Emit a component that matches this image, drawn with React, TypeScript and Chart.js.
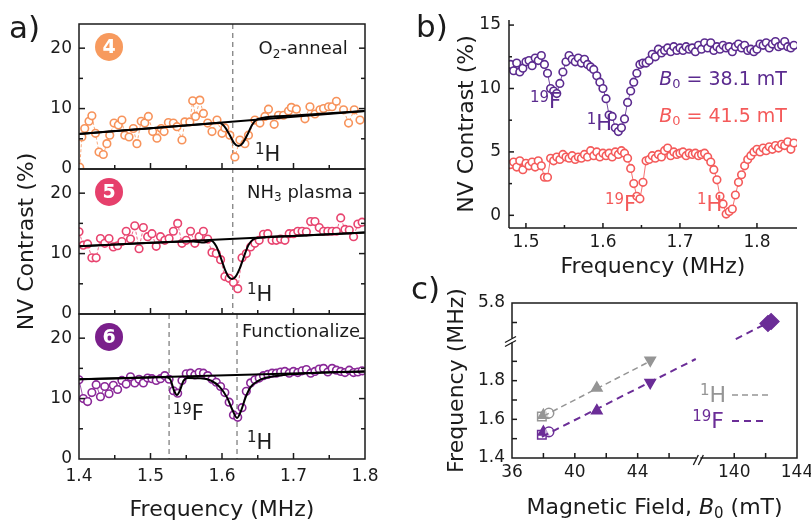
import React, { useEffect, useRef } from "react";
import { Chart, registerables } from "chart.js";

Chart.register(...registerables);

const FONT = "'DejaVu Sans', 'Liberation Sans', Arial, sans-serif";
const INK = "#1b1b1b";

/* ---------------- panel a ---------------- */
const aXTicks = [1.4, 1.5, 1.6, 1.7, 1.8];
const aXMarks = [1.45, 1.5, 1.55, 1.6, 1.65, 1.7, 1.75];
const aYTicks = [0, 10, 20];
const aYMarks = [5, 10, 15, 20];
const aLineTopMid = 1.615;
const aLinesBottom = [1.526, 1.621];

const aTopFreq = [1.401, 1.404, 1.408, 1.414, 1.418, 1.423, 1.428, 1.434, 1.439, 1.443, 1.449, 1.455, 1.46, 1.464, 1.47, 1.476, 1.481, 1.487, 1.492, 1.497, 1.503, 1.509, 1.515, 1.519, 1.525, 1.532, 1.537, 1.544, 1.548, 1.555, 1.559, 1.563, 1.569, 1.574, 1.58, 1.586, 1.593, 1.6, 1.604, 1.611, 1.618, 1.625, 1.632, 1.637, 1.646, 1.653, 1.66, 1.665, 1.673, 1.679, 1.686, 1.693, 1.697, 1.704, 1.716, 1.723, 1.73, 1.737, 1.742, 1.749, 1.754, 1.76, 1.77, 1.777, 1.785, 1.793];
const aTopVal = [0.3, 5.3, 6.7, 7.9, 8.8, 5.9, 2.8, 2.4, 4.2, 5.6, 7.6, 7.3, 8.1, 5.6, 5.3, 6.7, 4.2, 7.9, 7.6, 8.7, 6.2, 5.1, 6.7, 6.2, 7.7, 7.6, 7.0, 4.8, 7.8, 7.8, 11.3, 8.7, 11.4, 9.2, 7.6, 6.2, 8.1, 5.9, 6.8, 5.6, 2.0, 4.8, 4.2, 5.6, 8.1, 7.6, 8.7, 9.9, 7.4, 8.9, 8.9, 9.6, 10.2, 9.9, 8.3, 10.3, 9.1, 9.8, 10.0, 10.3, 10.3, 11.2, 9.8, 7.6, 9.8, 8.1];

const aGrid = [1.4, 1.406, 1.412, 1.418, 1.424, 1.43, 1.436, 1.442, 1.448, 1.454, 1.46, 1.466, 1.472, 1.478, 1.484, 1.49, 1.496, 1.502, 1.508, 1.514, 1.52, 1.526, 1.532, 1.538, 1.544, 1.55, 1.556, 1.562, 1.568, 1.574, 1.58, 1.586, 1.592, 1.598, 1.604, 1.61, 1.616, 1.622, 1.628, 1.634, 1.64, 1.646, 1.652, 1.658, 1.664, 1.67, 1.676, 1.682, 1.688, 1.694, 1.7, 1.706, 1.712, 1.718, 1.724, 1.73, 1.736, 1.742, 1.748, 1.754, 1.76, 1.766, 1.772, 1.778, 1.784, 1.79, 1.796];
const aMidVal = [13.6, 11.4, 11.6, 9.3, 9.3, 12.5, 11.7, 12.5, 11.1, 11.3,
  12.0, 13.7, 12.4, 14.6, 10.8, 14.3, 12.8, 13.3, 11.2, 12.8,
  12.2, 12.5, 13.7, 15.0, 11.7, 12.2, 13.7, 11.7, 12.8, 13.7,
  12.4, 10.2, 10.0, 9.0, 6.2, 5.9, 5.2, 4.2, 9.3, 10.0,
  11.1, 11.7, 12.2, 13.2, 13.3, 12.2, 12.2, 12.4, 12.2, 13.3,
  13.3, 13.7, 13.7, 13.6, 15.3, 15.3, 14.3, 13.7, 13.7, 13.7,
  13.7, 15.9, 14.0, 13.9, 12.8, 14.9, 15.2];
const aBotVal = [13.1, 10.0, 9.5, 11.0, 12.3, 10.3, 12.0, 10.8, 12.2, 11.5,
  13.0, 12.4, 13.6, 12.6, 13.2, 12.6, 13.4, 13.3, 13.0, 13.3,
  13.8, 13.2, 11.3, 10.9, 13.0, 14.1, 14.2, 13.9, 14.3, 14.2,
  13.8, 13.2, 12.7, 12.0, 11.0, 9.4, 7.3, 6.9, 8.5, 11.2,
  12.6, 13.1, 13.4, 13.8, 14.0, 14.2, 14.2, 14.4, 14.5, 14.2,
  14.5, 14.3, 14.6, 14.8, 14.2, 14.5, 14.9, 15.0, 14.4, 15.0,
  14.7, 14.5, 14.3, 14.7, 14.3, 14.4, 14.6];

const aTopBase = [[1.4, 5.8], [1.8, 9.6]];
const aTopFit = [[1.4, 5.8], [1.5, 6.75], [1.585, 7.55], [1.596, 7.65], [1.603, 7.1], [1.61, 5.8], [1.617, 4.3], [1.623, 3.8], [1.629, 4.3], [1.636, 5.8], [1.642, 7.3], [1.648, 8.15], [1.656, 8.45], [1.7, 8.85], [1.8, 9.6]];
const aMidBase = [[1.4, 11.2], [1.8, 13.5]];
const aMidFit = [[1.4, 11.2], [1.5, 11.78], [1.56, 12.02], [1.575, 11.85], [1.584, 12.15], [1.592, 11.2], [1.598, 9.4], [1.604, 7.4], [1.609, 6.2], [1.614, 5.8], [1.619, 6.2], [1.625, 7.6], [1.631, 9.6], [1.637, 11.4], [1.643, 12.3], [1.652, 12.6], [1.7, 12.9], [1.8, 13.5]];
const aBotBase = [[1.4, 13.2], [1.8, 14.5]];
const aBotFit = [[1.4, 13.2], [1.5, 13.5], [1.522, 13.55], [1.528, 13.1], [1.533, 11.3], [1.537, 10.6], [1.541, 11.3], [1.546, 12.9], [1.552, 13.4], [1.57, 13.35], [1.585, 12.95], [1.597, 11.9], [1.607, 10.2], [1.614, 8.3], [1.621, 6.8], [1.627, 8.1], [1.633, 10.2], [1.64, 11.9], [1.65, 12.9], [1.66, 13.4], [1.68, 13.8], [1.7, 14.05], [1.73, 14.25], [1.8, 14.5]];

const aBadgeX = 1.442;
const aBadgeY = 20.2;
const aBadgeLabels = ["4", "5", "6"];
const aBadgeColors = ["#F79A5E", "#E6406C", "#7A1F8B"];
const ORANGE = "#F7935B";
const PINK = "#E8446F";
const PURPLE_A = "#8A2898";

/* ---------------- panel b ---------------- */
const bXTicks = [1.5, 1.6, 1.7, 1.8];
const bXMarks = [1.5, 1.55, 1.6, 1.65, 1.7, 1.75, 1.8];
const bYTicks = [0, 5, 10, 15];
const bYMarks = [0, 2.5, 5, 7.5, 10, 12.5, 15];
const bGrid = [1.48, 1.484, 1.488, 1.492, 1.496, 1.5, 1.504, 1.508, 1.512, 1.516, 1.52, 1.524, 1.528, 1.532, 1.536, 1.54, 1.544, 1.548, 1.552, 1.556, 1.56, 1.564, 1.568, 1.572, 1.576, 1.58, 1.584, 1.588, 1.592, 1.596, 1.6, 1.604, 1.608, 1.612, 1.616, 1.62, 1.624, 1.628, 1.632, 1.636, 1.64, 1.644, 1.648, 1.652, 1.656, 1.66, 1.664, 1.668, 1.672, 1.676, 1.68, 1.684, 1.688, 1.692, 1.696, 1.7, 1.704, 1.708, 1.712, 1.716, 1.72, 1.724, 1.728, 1.732, 1.736, 1.74, 1.744, 1.748, 1.752, 1.756, 1.76, 1.764, 1.768, 1.772, 1.776, 1.78, 1.784, 1.788, 1.792, 1.796, 1.8, 1.804, 1.808, 1.812, 1.816, 1.82, 1.824, 1.828, 1.832, 1.836, 1.84, 1.844, 1.848];
const bPurple = [11.9, 11.4, 12.0, 11.3, 11.6, 12.1, 12.2, 11.8, 12.4, 12.2,
  12.6, 11.9, 11.2, 10.0, 9.8, 9.6, 10.4, 11.3, 12.1, 12.6,
  12.3, 12.1, 12.4, 12.0, 12.3, 11.9, 11.7, 11.5, 11.0, 10.5,
  10.0, 9.2, 7.9, 7.8, 6.9, 6.6, 6.9, 7.6, 8.9, 9.8,
  10.5, 11.2, 11.9, 12.0, 12.0, 12.2, 12.7, 12.5, 13.1, 12.8,
  13.0, 13.2, 12.9, 13.3, 13.0, 13.2, 13.0, 13.3, 13.1, 13.2,
  12.9, 13.4, 13.1, 13.6, 13.2, 13.6, 13.0, 13.3, 13.1, 13.4,
  13.2, 13.3, 12.9, 13.3, 13.5, 13.2, 13.4, 13.0, 13.1, 12.9,
  13.1, 13.5, 13.4, 13.6, 13.2, 13.5, 13.7, 13.3, 13.4, 13.7,
  13.3, 13.2, 13.4];
const bRed = [4.0, 4.2, 3.8, 4.3, 3.6, 4.1, 3.9, 4.2, 3.8, 4.3,
  3.9, 3.0, 3.0, 4.5, 4.3, 4.6, 4.4, 4.8, 4.6, 4.5,
  4.7, 4.4, 4.6, 4.5, 4.8, 4.6, 5.1, 4.7, 5.0, 4.6,
  4.9, 4.7, 4.9, 4.6, 5.0, 4.8, 5.1, 4.9, 4.5, 3.7,
  2.5, 1.5, 1.3, 2.6, 4.3, 4.4, 4.7, 4.5, 4.8, 4.6,
  5.1, 5.3, 4.7, 5.0, 4.8, 4.9, 5.0, 4.7, 4.9, 4.8,
  4.9, 4.7, 4.8, 4.9, 4.6, 4.2, 3.6, 2.8, 1.5, 0.9,
  0.1, 0.3, 0.5, 1.6, 2.6, 3.2, 3.9, 4.4, 4.7, 5.0,
  5.2, 5.0, 5.3, 5.1, 5.4, 5.2, 5.5, 5.3, 5.6, 5.5,
  5.8, 5.2, 5.7];
const PURPLE_B = "#5B2B8F";
const RED_B = "#F45A5A";

/* ---------------- panel c ---------------- */
const cXTicksL = [36, 40, 44];
const cXTicksR = [140, 144];
const cXMarksL = [38, 40, 42, 44, 46];
const cXMarksR = [140, 142];
const cYTicksB = [1.4, 1.6, 1.8];
const cYTicksT = [5.8];
const cYMarksB = [1.5, 1.6, 1.7, 1.8, 1.9];
const cYMarksT = [5.7];
const cHField = [37.9, 38.0, 38.35, 41.4, 44.8];
const cHFreq = [1.615, 1.621, 1.632, 1.762, 1.906];
const cFField = [37.9, 38.0, 38.35, 41.4, 44.8];
const cFFreq = [1.52, 1.534, 1.535, 1.645, 1.79];
const cStyles = ["rect", "triangle", "circle", "triangle", "triangle"];
const cRot = [0, 0, 0, 0, 180];
const cFilled = [false, true, false, true, true];
const cDiaField = [142.15, 142.35];
const cDiaFreq = [5.695, 5.705];
const cFitH = [[38.0, 1.617], [44.9, 1.905]];
const cFitF = [[37.9, 1.51], [47.7, 1.912]];
const cFitF2 = [[140.1, 5.615], [142.3, 5.705]];
const GRAY = "#959595";
const PURPLE_C = "#6B2D97";

/* ---------------- helpers ---------------- */
const fmt = (v: any) => String(Math.round(Number(v) * 100) / 100);
const pts = (xs: number[], ys: number[]) => xs.map((x, i) => ({ x, y: ys[i] }));
const pairs = (p: number[][]) => p.map(([x, y]) => ({ x, y }));

type Run = { t: string; s: number; dy?: number; it?: boolean; b?: boolean };
function runs(ctx: CanvasRenderingContext2D, list: Run[], x: number, y: number, color: string, align = "left") {
  ctx.save();
  ctx.fillStyle = color;
  ctx.textBaseline = "middle";
  ctx.textAlign = "left";
  const f = (r: Run) => `${r.it ? "italic " : ""}${r.b ? "bold " : ""}${r.s}px ${FONT}`;
  let w = 0;
  for (const r of list) { ctx.font = f(r); w += ctx.measureText(r.t).width; }
  let cx = align === "left" ? x : align === "right" ? x - w : x - w / 2;
  for (const r of list) { ctx.font = f(r); ctx.fillText(r.t, cx, y + (r.dy || 0)); cx += ctx.measureText(r.t).width; }
  ctx.restore();
}
function vrun(ctx: CanvasRenderingContext2D, list: Run[], x: number, y: number) {
  ctx.save();
  ctx.translate(x, y);
  ctx.rotate(-Math.PI / 2);
  runs(ctx, list, 0, 0, INK, "center");
  ctx.restore();
}
function seg(ctx: CanvasRenderingContext2D, x1: number, y1: number, x2: number, y2: number) {
  ctx.beginPath(); ctx.moveTo(x1, y1); ctx.lineTo(x2, y2); ctx.stroke();
}
function panelLabel(ctx: CanvasRenderingContext2D, t: string, x: number, y: number) {
  ctx.save(); ctx.fillStyle = INK; ctx.font = `31px ${FONT}`; ctx.textBaseline = "alphabetic"; ctx.textAlign = "left";
  ctx.fillText(t, x, y); ctx.restore();
}
const sup = (a: string, b: string, s = 19): Run[] => [{ t: a, s: Math.round(s * 0.7), dy: -5 }, { t: b, s }];

function axis(axisName: string, position: string, min: number, max: number, ticks: number[], size: number, pad: number, fontSize: number, extra: any = {}) {
  const horiz = axisName === "x";
  return {
    type: "linear", axis: axisName, position, min, max,
    grid: { display: false, drawTicks: false },
    border: { display: false },
    ticks: { font: { family: FONT, size: fontSize }, color: INK, padding: pad, autoSkip: false, maxRotation: 0, callback: fmt },
    afterBuildTicks: (s: any) => { s.ticks = ticks.map((v) => ({ value: v })); },
    afterFit: (s: any) => {
      if (horiz) { s.height = size; s.paddingLeft = 0; s.paddingRight = 0; }
      else { s.width = size; s.paddingTop = 0; s.paddingBottom = 0; }
    },
    ...extra,
  };
}
const lineDs = (p: number[][], extra: any = {}) => ({
  data: pairs(p), showLine: true, borderColor: "#000", borderWidth: 2, pointRadius: 0, pointHoverRadius: 0,
  cubicInterpolationMode: "monotone", fill: false, ...extra,
});
const dotDs = (xs: number[], ys: number[], color: string, extra: any = {}) => ({
  data: pts(xs, ys), showLine: true, borderColor: color, borderWidth: 1, pointRadius: 3.8, pointHoverRadius: 3.8,
  pointBorderWidth: 1.6, pointBorderColor: color, pointBackgroundColor: "#fff", ...extra,
});
const base = (padding: any) => ({
  animation: false, responsive: false, maintainAspectRatio: false, events: [],
  layout: { padding },
  plugins: { legend: { display: false }, tooltip: { enabled: false } },
});

/* ---------------- panel a chart ---------------- */
const aDecor = {
  id: "aDecor",
  beforeDatasetsDraw(chart: any) {
    const { ctx, scales } = chart;
    const x = scales.x;
    ctx.save();
    ctx.strokeStyle = "#8a8a8a"; ctx.lineWidth = 1.4; ctx.setLineDash([5, 4]);
    let px = x.getPixelForValue(aLineTopMid);
    seg(ctx, px, scales.y1.top, px, scales.y2.bottom);
    for (const m of aLinesBottom) { px = x.getPixelForValue(m); seg(ctx, px, scales.y3.top, px, scales.y3.bottom); }
    ctx.restore();
  },
  afterDraw(chart: any) {
    const { ctx, chartArea: ca, scales } = chart;
    const x = scales.x;
    const ys = [scales.y1, scales.y2, scales.y3];
    ctx.save();
    ctx.strokeStyle = INK; ctx.lineWidth = 1.5;
    ys.forEach((s: any, k: number) => {
      ctx.strokeRect(ca.left, s.top, ca.right - ca.left, s.bottom - s.top);
      aYMarks.forEach((v) => {
        const py = s.getPixelForValue(v); const len = v % 10 === 0 ? 6 : 4;
        seg(ctx, ca.left, py, ca.left + len, py); seg(ctx, ca.right, py, ca.right - len, py);
      });
      aXMarks.forEach((v) => {
        const px = x.getPixelForValue(v); const len = Math.abs(v * 10 - Math.round(v * 10)) < 1e-6 ? 6 : 4;
        seg(ctx, px, s.bottom, px, s.bottom - len);
      });
      const bx = x.getPixelForValue(aBadgeX), by = s.getPixelForValue(aBadgeY);
      ctx.fillStyle = aBadgeColors[k];
      ctx.beginPath(); ctx.arc(bx, by, 14, 0, Math.PI * 2); ctx.fill();
      runs(ctx, [{ t: aBadgeLabels[k], s: 19, b: true }], bx, by + 1, "#fff", "center");
    });
    ctx.restore();
    const y1 = scales.y1, y2 = scales.y2, y3 = scales.y3;
    const P = (sc: any, fx: number, fy: number) => [x.getPixelForValue(fx), sc.getPixelForValue(fy)];
    let p = P(y1, 1.776, 19.8);
    runs(ctx, [{ t: "O", s: 18 }, { t: "2", s: 12, dy: 5 }, { t: "-anneal", s: 18 }], p[0], p[1], INK, "right");
    p = P(y2, 1.783, 20.0);
    runs(ctx, [{ t: "NH", s: 18 }, { t: "3", s: 12, dy: 5 }, { t: " plasma", s: 18 }], p[0], p[1], INK, "right");
    p = P(y3, 1.793, 21.0);
    runs(ctx, [{ t: "Functionalize", s: 18 }], p[0], p[1], INK, "right");
    p = P(y1, 1.646, 2.3); runs(ctx, sup("1", "H", 21), p[0], p[1], INK);
    p = P(y2, 1.635, 3.1); runs(ctx, sup("1", "H", 21), p[0], p[1], INK);
    p = P(y3, 1.635, 2.6); runs(ctx, sup("1", "H", 21), p[0], p[1], INK);
    p = P(y3, 1.531, 7.3); runs(ctx, sup("19", "F", 21), p[0], p[1], INK);
    vrun(ctx, [{ t: "NV Contrast (%)", s: 22 }], ca.left - 52, (ca.top + ca.bottom) / 2);
    runs(ctx, [{ t: "Frequency (MHz)", s: 22 }], (ca.left + ca.right) / 2, ca.bottom + 51, INK, "center");
    panelLabel(ctx, "a)", 9, 38);
  },
};

function makeA(): any {
  const yA = (w: number) => axis("y", "left", 0, 24, aYTicks, 79, 7, 17, { stack: "a", weight: w });
  return {
    type: "scatter",
    data: {
      datasets: [
        lineDs(aTopFit, { yAxisID: "y1" }), lineDs(aTopBase, { yAxisID: "y1", cubicInterpolationMode: "default", tension: 0 }),
        lineDs(aMidFit, { yAxisID: "y2" }), lineDs(aMidBase, { yAxisID: "y2", cubicInterpolationMode: "default", tension: 0 }),
        lineDs(aBotFit, { yAxisID: "y3" }), lineDs(aBotBase, { yAxisID: "y3", cubicInterpolationMode: "default", tension: 0 }),
        dotDs(aTopFreq, aTopVal, ORANGE, { yAxisID: "y1", borderDash: [3, 2], borderColor: "rgba(247,147,91,0.8)" }),
        dotDs(aGrid, aMidVal, PINK, { yAxisID: "y2", borderDash: [3, 2], borderColor: "rgba(232,68,111,0.8)" }),
        dotDs(aGrid, aBotVal, PURPLE_A, { yAxisID: "y3", borderColor: "rgba(138,40,152,0.8)" }),
      ],
    },
    options: {
      ...base({ left: 0, right: 35, top: 24, bottom: 0 }),
      scales: {
        x: axis("x", "bottom", 1.4, 1.8, aXTicks, 63, 7, 17),
        y1: yA(3), y2: yA(2), y3: yA(1),
      },
    },
    plugins: [aDecor],
  };
}

/* ---------------- panel b chart ---------------- */
const bDecor = {
  id: "bDecor",
  afterDraw(chart: any) {
    const { ctx, chartArea: ca, scales } = chart;
    const x = scales.x, y = scales.y;
    ctx.save();
    ctx.strokeStyle = INK; ctx.lineWidth = 1.5;
    seg(ctx, ca.left, ca.top, ca.left, ca.bottom);
    seg(ctx, ca.left, ca.bottom, ca.right, ca.bottom);
    bYMarks.forEach((v) => { const py = y.getPixelForValue(v); seg(ctx, ca.left, py, ca.left + (v % 5 === 0 ? 5 : 3), py); });
    bXMarks.forEach((v) => {
      const px = x.getPixelForValue(v); const len = Math.abs(v * 10 - Math.round(v * 10)) < 1e-6 ? 5 : 3;
      seg(ctx, px, ca.bottom, px, ca.bottom - len);
    });
    ctx.restore();
    const P = (fx: number, fy: number) => [x.getPixelForValue(fx), y.getPixelForValue(fy)];
    let p = P(1.5053, 8.86); runs(ctx, sup("19", "F", 21), p[0], p[1], PURPLE_B);
    p = P(1.579, 7.15); runs(ctx, sup("1", "H", 21), p[0], p[1], PURPLE_B);
    p = P(1.673, 10.67);
    runs(ctx, [{ t: "B", s: 19, it: true }, { t: "0", s: 13, dy: 5 }, { t: " = 38.1 mT", s: 19 }], p[0], p[1], PURPLE_B);
    p = P(1.673, 7.75);
    runs(ctx, [{ t: "B", s: 19, it: true }, { t: "0", s: 13, dy: 5 }, { t: " = 41.5 mT", s: 19 }], p[0], p[1], RED_B);
    p = P(1.6027, 0.8); runs(ctx, sup("19", "F", 21), p[0], p[1], RED_B);
    p = P(1.722, 0.8); runs(ctx, sup("1", "H", 21), p[0], p[1], RED_B);
    vrun(ctx, [{ t: "NV Contrast (%)", s: 22 }], ca.left - 42, (ca.top + ca.bottom) / 2);
    runs(ctx, [{ t: "Frequency (MHz)", s: 22 }], (ca.left + ca.right) / 2, ca.bottom + 39, INK, "center");
    panelLabel(ctx, "b)", 16, 37);
  },
};

function makeB(): any {
  return {
    type: "scatter",
    data: {
      datasets: [
        dotDs(bGrid, bPurple, PURPLE_B, { borderColor: "rgba(91,43,143,0.85)" }),
        dotDs(bGrid, bRed, RED_B, { borderColor: "rgba(244,90,90,0.85)" }),
      ],
    },
    options: {
      ...base({ left: 0, right: 14, top: 20, bottom: 0 }),
      scales: {
        x: axis("x", "bottom", 1.478, 1.852, bXTicks, 62, 4, 17),
        y: axis("y", "left", -1, 15.4, bYTicks, 109, 8, 17),
      },
    },
    plugins: [bDecor],
  };
}

/* ---------------- panel c chart ---------------- */
const cDecor = {
  id: "cDecor",
  afterDraw(chart: any) {
    const { ctx, chartArea: ca, scales } = chart;
    const { xL, xR, yB, yT } = scales;
    ctx.save();
    ctx.strokeStyle = INK; ctx.lineWidth = 1.5;
    ctx.strokeRect(ca.left, ca.top, ca.right - ca.left, ca.bottom - ca.top);
    cYMarksB.forEach((v) => { const py = yB.getPixelForValue(v); seg(ctx, ca.left, py, ca.left + 5, py); });
    cYMarksT.forEach((v) => { const py = yT.getPixelForValue(v); seg(ctx, ca.left, py, ca.left + 5, py); });
    cXMarksL.forEach((v) => { const px = xL.getPixelForValue(v); seg(ctx, px, ca.bottom, px, ca.bottom - 5); });
    cXMarksR.forEach((v) => { const px = xR.getPixelForValue(v); seg(ctx, px, ca.bottom, px, ca.bottom - 5); });
    const by = yB.top, L = ca.left;
    ctx.fillStyle = "#fff"; ctx.fillRect(L - 2, by - 3.5, 4, 4);
    ctx.lineWidth = 1.3;
    seg(ctx, L - 7, by + 0.5, L + 4, by - 5.5);
    seg(ctx, L - 7, by + 4.5, L + 4, by - 1.5);
    const bx = xL.right, B = ca.bottom;
    ctx.fillStyle = "#fff"; ctx.fillRect(bx - 1, B - 2, 4, 4);
    seg(ctx, bx - 4, B + 7, bx + 1, B - 3);
    seg(ctx, bx + 1, B + 7, bx + 6, B - 3);
    ctx.lineWidth = 1.5; ctx.strokeStyle = GRAY; ctx.setLineDash([6, 4]);
    const hy = yB.getPixelForValue(1.726), fy = yB.getPixelForValue(1.591);
    seg(ctx, ca.right - 65, hy, ca.right - 29, hy);
    ctx.lineWidth = 2; ctx.strokeStyle = PURPLE_C; ctx.setLineDash([7, 5]);
    seg(ctx, ca.right - 65, fy, ca.right - 29, fy);
    ctx.restore();
    runs(ctx, sup("1", "H", 22), ca.right - 71, hy + 1, GRAY, "right");
    runs(ctx, sup("19", "F", 22), ca.right - 73, fy + 1, PURPLE_C, "right");
    vrun(ctx, [{ t: "Frequency (MHz)", s: 22 }], ca.left - 55, (ca.top + ca.bottom) / 2);
    runs(ctx, [{ t: "Magnetic Field, ", s: 22 }, { t: "B", s: 22, it: true }, { t: "0", s: 15, dy: 6 }, { t: " (mT)", s: 22 }],
      (ca.left + ca.right) / 2, ca.bottom + 50, INK, "center");
    panelLabel(ctx, "c)", 11, 29);
  },
};

function makeC(): any {
  const mk = (xs: number[], ys: number[], color: string) => ({
    data: pts(xs, ys), xAxisID: "xL", yAxisID: "yB", showLine: false,
    pointStyle: cStyles, pointRotation: cRot,
    pointRadius: cStyles.map((s) => (s === "circle" ? 4.8 : 6)),
    pointHoverRadius: cStyles.map((s) => (s === "circle" ? 4.8 : 6)),
    pointBorderWidth: 1.5, pointBorderColor: color,
    pointBackgroundColor: cFilled.map((f) => (f ? color : "rgba(255,255,255,0.6)")),
  });
  return {
    type: "scatter",
    data: {
      datasets: [
        lineDs(cFitF2, { xAxisID: "xR", yAxisID: "yT", borderColor: PURPLE_C, borderDash: [7, 5], cubicInterpolationMode: "default", tension: 0 }),
        lineDs(cFitF, { xAxisID: "xL", yAxisID: "yB", borderColor: PURPLE_C, borderDash: [7, 5], cubicInterpolationMode: "default", tension: 0 }),
        lineDs(cFitH, { xAxisID: "xL", yAxisID: "yB", borderColor: GRAY, borderWidth: 1.5, borderDash: [6, 4], cubicInterpolationMode: "default", tension: 0 }),
        mk(cHField, cHFreq, GRAY),
        mk(cFField, cFFreq, PURPLE_C),
        {
          data: pts(cDiaField, cDiaFreq), xAxisID: "xR", yAxisID: "yT", showLine: false, pointStyle: "rectRot",
          pointRadius: 8, pointHoverRadius: 8, pointBorderWidth: 1.2, pointBorderColor: PURPLE_C, pointBackgroundColor: PURPLE_C,
        },
      ],
    },
    options: {
      ...base({ left: 0, right: 14, top: 33, bottom: 0 }),
      scales: {
        xL: axis("x", "bottom", 36, 47.8, cXTicksL, 64, 4, 17, { stack: "cx", stackWeight: 186, weight: 1 }),
        xR: axis("x", "bottom", 137.65, 144, cXTicksR, 64, 4, 17, { stack: "cx", stackWeight: 100, weight: 2 }),
        yB: axis("y", "left", 1.4, 2.0, cYTicksB, 112, 7, 17, { stack: "cy", stackWeight: 116, weight: 1 }),
        yT: axis("y", "left", 5.6, 5.8, cYTicksT, 112, 7, 17, { stack: "cy", stackWeight: 39, weight: 2 }),
      },
    },
    plugins: [cDecor],
  };
}

/* ---------------- components ---------------- */
function ChartCanvas({ make, left, top, w, h }: { make: () => any; left: number; top: number; w: number; h: number }) {
  const ref = useRef<HTMLCanvasElement | null>(null);
  useEffect(() => {
    const chart = new Chart(ref.current as HTMLCanvasElement, make());
    return () => chart.destroy();
  }, []);
  return (
    <canvas ref={ref} width={w} height={h}
      style={{ position: "absolute", left, top, width: w, height: h, display: "block" }} />
  );
}

export default function App() {
  return (
    <div style={{ position: "absolute", left: 0, top: 0, width: 811, height: 522, background: "#fff", overflow: "hidden" }}>
      <ChartCanvas make={makeA} left={0} top={0} w={400} h={522} />
      <ChartCanvas make={makeB} left={400} top={0} w={411} h={290} />
      <ChartCanvas make={makeC} left={400} top={270} w={411} h={252} />
    </div>
  );
}
